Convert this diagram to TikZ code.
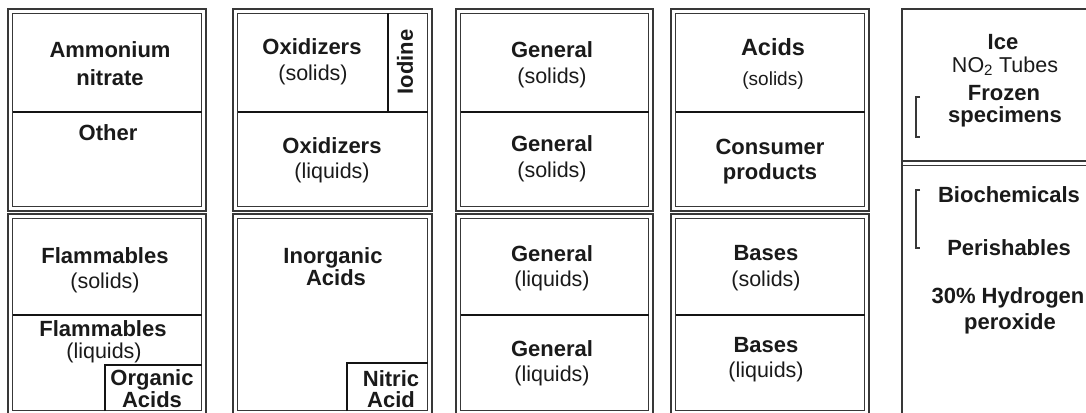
\documentclass[tikz,border=0pt]{standalone}
\usepackage{fontspec}
\setmainfont{Liberation Sans}
\definecolor{framegray}{HTML}{383838}
\definecolor{txt}{HTML}{1A1A1A}
\tikzset{
  frame/.style={draw=framegray, line width=1.5pt},
  divider/.style={draw=black!92, line width=2.5pt},
  bt/.style={font=\fontsize{22}{24}\selectfont\bfseries, text=txt, inner sep=0pt, anchor=base},
  rt/.style={font=\fontsize{21.5}{24}\selectfont, text=txt, inner sep=0pt, anchor=base},
  brk/.style={draw=framegray, line width=1.3pt}
}
\newcommand\cabinet[4]{%
  \draw[frame] (#1,#2) rectangle (#3,#4);
  \draw[frame] ({#1+4.5},{#2+4.5}) rectangle ({#3-4.5},{#4-4.5});}
\begin{document}
\begin{tikzpicture}[x=1pt,y=-1pt]
\useasboundingbox (0,0) rectangle (1086,412);
\fill[white] (0,0) rectangle (1086,412);
\begin{scope}
\clip (0,0) rectangle (1086,412);
% cabinets
\cabinet{8}{9}{206}{211}
\cabinet{8}{214}{206}{415}
\cabinet{233}{9}{432}{211}
\cabinet{233}{214}{432}{415}
\cabinet{456}{9}{653}{211}
\cabinet{456}{214}{653}{415}
\cabinet{671}{9}{869}{211}
\cabinet{671}{214}{869}{415}
% dividers
\draw[divider] (12.5,112) -- (201.5,112);
\draw[divider] (12.5,315) -- (201.5,315);
\draw[divider] (237.5,112) -- (427.5,112);
\draw[divider] (388,13.5) -- (388,112);
\draw[divider] (460.5,112) -- (648.5,112);
\draw[divider] (460.5,315) -- (648.5,315);
\draw[divider] (675.5,112) -- (864.5,112);
\draw[divider] (675.5,315) -- (864.5,315);
% small boxes
\draw[divider] (105,411) -- (105,365) -- (201.5,365);
\draw[divider] (347,411) -- (347,363) -- (427.5,363);
% column 5
\draw[draw=framegray, line width=2.2pt] (902,413) -- (902,9) -- (1087,9);
\draw[frame] (902,161) -- (1087,161);
\draw[frame] (902,165.5) -- (1087,165.5);
\draw[brk] (920,97) -- (916,97) -- (916,137) -- (920,137);
\draw[brk] (920,190) -- (916,190) -- (916,248) -- (920,248);
\end{scope}
% column 1
\node[bt] (am) at (110,58) {Ammonium};
\node[bt] (ni) at (110,85) {nitrate};
\node[bt] (ot) at (108,140) {Other};
\node[bt] (fl1) at (105,263) {Flammables};
\node[rt] (fs) at (105,288) {(solids)};
\node[bt] (fl2) at (103,336) {Flammables};
\node[rt] (flq) at (104,358.5) {(liquids)};
\node[bt] (org) at (152,385.5) {Organic};
\node[bt] (oac) at (152,407.5) {Acids};
% column 2
\node[bt] (ox1) at (312,55) {Oxidizers};
\node[rt] (oxs) at (313,80) {(solids)};
\node[bt, rotate=90, anchor=center] (io) at (405,62) {Iodine};
\node[bt] (ox2) at (332,153) {Oxidizers};
\node[rt] (oxl) at (332,178) {(liquids)};
\node[bt] (ino) at (333,263) {Inorganic};
\node[bt] (iac) at (336,285) {Acids};
\node[bt] (nit) at (391,386) {Nitric};
\node[bt] (nac) at (391,407.5) {Acid};
% column 3
\node[bt] (g1) at (552,58) {General};
\node[rt] (g1s) at (552,83) {(solids)};
\node[bt] (g2) at (552,151) {General};
\node[rt] (g2s) at (552,177) {(solids)};
\node[bt] (g3) at (552,261) {General};
\node[rt] (g3l) at (552,286) {(liquids)};
\node[bt] (g4) at (552,356) {General};
\node[rt] (g4l) at (552,381) {(liquids)};
% column 4
\node[bt, font=\fontsize{23.5}{24}\selectfont\bfseries] (ac) at (773,56) {Acids};
\node[rt, font=\fontsize{19}{22}\selectfont] (acs) at (773,85) {(solids)};
\node[bt] (con) at (770,154) {Consumer};
\node[bt] (pro) at (770,179) {products};
\node[bt] (b1) at (766,260) {Bases};
\node[rt] (b1s) at (766,286) {(solids)};
\node[bt] (b2) at (766,352) {Bases};
\node[rt] (b2l) at (766,377) {(liquids)};
% column 5
\node[bt] (ice) at (1003,49) {Ice};
\node[rt] (no2) at (1005,72) {NO\textsubscript{2} Tubes};
\node[bt] (fro) at (1004,100) {Frozen};
\node[bt] (spe) at (1005,122) {specimens};
\node[bt] (bio) at (1009,202) {Biochemicals};
\node[bt] (per) at (1009,255) {Perishables};
\node[bt] (hyd) at (1008,303) {30\% Hydrogen};
\node[bt] (pox) at (1010,329) {peroxide};
\end{tikzpicture}
\end{document}
